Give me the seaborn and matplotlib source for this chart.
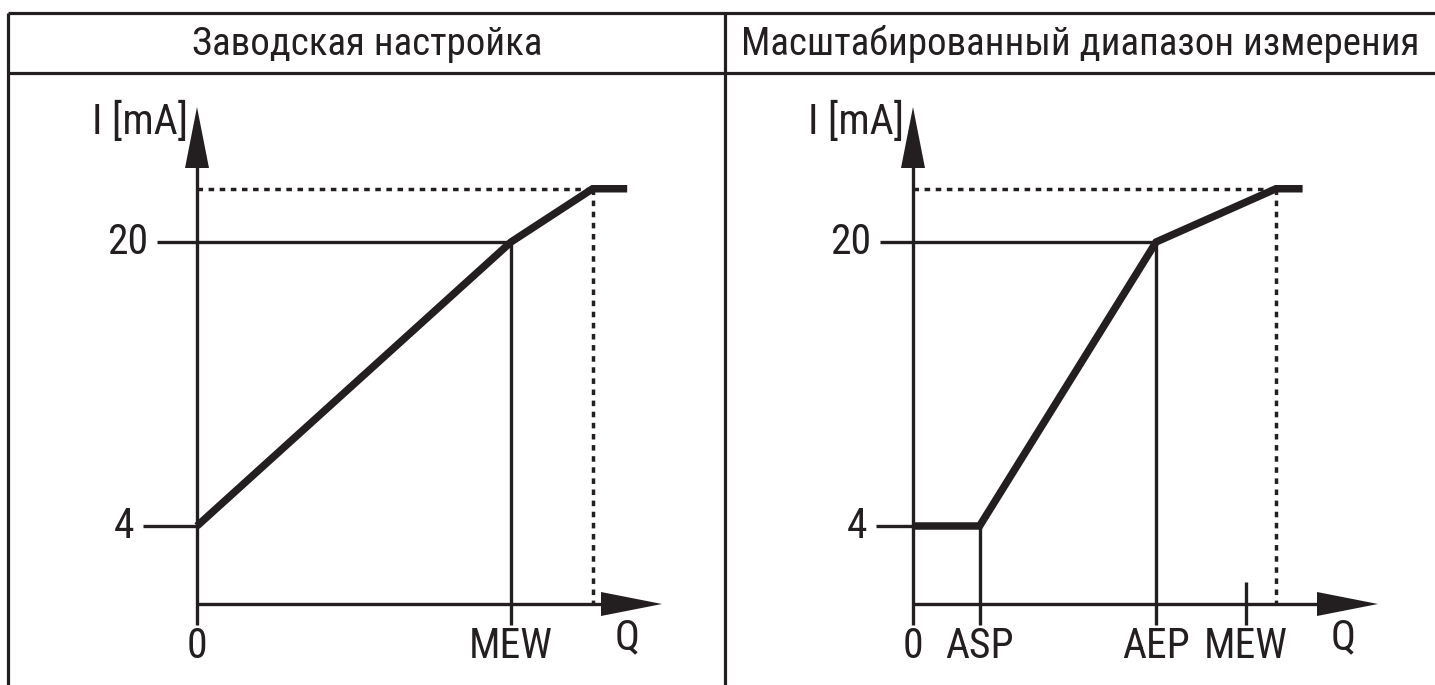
import numpy as np
import matplotlib
matplotlib.use("Agg")
import matplotlib.pyplot as plt
from matplotlib import font_manager
import seaborn as sns

# ---------------- data ----------------
titles = ["Заводская настройка", "Масштабированный диапазон измерения"]

# left panel: factory setting (Q in % of MEW, I in mA)
q_left = [0, 100, 126, 137]
i_left = [4, 20, 23, 23]
left_xticks = [0, 100]
left_xticklabels = ["0", "MEW"]

# right panel: scaled measuring range
q_right = [0, 20, 73, 109, 117]
i_right = [4, 4, 20, 23, 23]
right_xticks = [0, 20, 73, 100]
right_xticklabels = ["0", "ASP", "AEP", "MEW"]

y_ticks = [4, 20]
y_ticklabels = ["4", "20"]
i_sat = 23

# ---------------- style ----------------
sns.set_style("white")

# look for a narrow sans face; fall back to a regular one if none is there
fonts = font_manager.fontManager.ttflist
names = {f.name for f in fonts}
FAMILY, STRETCH, FS, FS_T = 'Liberation Sans', 'normal', 26, 22
for cand in ['Liberation Sans Narrow', 'Arial Narrow', 'DejaVu Sans Condensed',
             'Roboto Condensed', 'Open Sans Condensed']:
    if cand in names:
        FAMILY, FS, FS_T = cand, 30, 28
        break
else:
    cond = [f for f in fonts if str(f.stretch) in ('condensed', 'semi-condensed')
            and f.name in ('DejaVu Sans', 'Open Sans', 'Roboto', 'Noto Sans', 'Liberation Sans')]
    if cond:
        FAMILY, STRETCH, FS, FS_T = cond[0].name, cond[0].stretch, 29.5, 27

plt.rcParams['font.family'] = [FAMILY, 'DejaVu Sans']
plt.rcParams['font.stretch'] = STRETCH
INK = '#231f20'

W, H = 1435, 685
SY = 17.75          # px per mA
Y4 = 526            # pixel row of 4 mA


def py_to_i(py):
    return 4 + (Y4 - py) / SY


fig = plt.figure(figsize=(W / 100, H / 100), dpi=100)

# table frame in pixel coords
frame = fig.add_axes([0, 0, 1, 1])
frame.set_xlim(0, W)
frame.set_ylim(H, 0)
frame.axis('off')
for xs, ys in [([8, W], [13, 13]), ([8, W], [73, 73]), ([8, 8], [13, H]), ([725, 725], [13, H])]:
    frame.plot(xs, ys, color=INK, lw=2.3, solid_capstyle='butt')
frame.text(367, 44, titles[0], fontsize=FS_T, ha='center', va='center', color=INK)
frame.text(1080, 44, titles[1], fontsize=FS_T, ha='center', va='center', color=INK)


def draw_panel(x_lo, x_hi, x0, sx, q, i, xticks, xticklabels, tick_len, tip_px, short_last):
    ax = fig.add_axes([x_lo / W, 0, (x_hi - x_lo) / W, 1])
    ax.set_xlim((x_lo - x0) / sx, (x_hi - x0) / sx)
    ax.set_ylim(py_to_i(H), py_to_i(0))
    ax.axis('off')

    i_axis = py_to_i(604)
    i_bottom = py_to_i(625)
    q_tip = (tip_px - x0) / sx
    head_len_q = 61 / sx
    head_w_q = 12 / sx
    i_tip = py_to_i(107)
    head_len_i = 61 / SY
    head_w_i = 12 / SY
    lw = 2.4

    # axes with arrow heads
    ax.plot([0, 0], [i_bottom, i_tip - head_len_i + 0.1], color=INK, lw=lw, solid_capstyle='butt')
    ax.fill([-head_w_q, head_w_q, 0], [i_tip - head_len_i] * 2 + [i_tip], color=INK, lw=0)
    ax.plot([0, q_tip - head_len_q + 0.5], [i_axis, i_axis], color=INK, lw=lw, solid_capstyle='butt')
    ax.fill([q_tip - head_len_q] * 2 + [q_tip], [i_axis - head_w_i, i_axis + head_w_i, i_axis],
            color=INK, lw=0)

    # y ticks and guide lines
    for yt, lab, tl in zip(y_ticks, y_ticklabels, tick_len):
        q_end = np.interp(yt, i[1:], q[1:]) if yt > i[0] else 0
        ax.plot([-tl / sx, q_end], [yt, yt], color=INK, lw=lw, solid_capstyle='butt')
        ax.text(-(tl + 9) / sx, yt, lab, fontsize=FS, ha='right', va='center', color=INK)

    # x ticks and guide lines
    for k, (xt, lab) in enumerate(zip(xticks, xticklabels)):
        if xt == 0:
            pass
        elif short_last and k == len(xticks) - 1:
            ax.plot([xt, xt], [py_to_i(582), i_bottom], color=INK, lw=lw, solid_capstyle='butt')
        else:
            ax.plot([xt, xt], [np.interp(xt, q, i), i_bottom], color=INK, lw=lw, solid_capstyle='butt')
        ax.text(xt, py_to_i(647), lab, fontsize=FS, ha='center', va='center', color=INK)

    # saturation guides
    q_sat = q[-2]
    ax.plot([0, q_sat], [i_sat, i_sat], color=INK, lw=2.5, ls=(0, (1.6, 1.6)))
    ax.plot([q_sat, q_sat], [i_sat, i_axis], color=INK, lw=2.5, ls=(0, (1.6, 1.6)))

    # characteristic curve
    sns.lineplot(x=q, y=i, ax=ax, color=INK, linewidth=5.4, sort=False, estimator=None,
                 solid_joinstyle='miter', solid_capstyle='butt')

    ax.text(-9 / sx, py_to_i(122), "I [mA]", fontsize=FS, ha='right', va='center', color=INK)
    ax.text(q_tip - 35 / sx, py_to_i(638), "Q", fontsize=FS, ha='center', va='center', color=INK)
    return ax


draw_panel(9, 725, 197, 3.14, q_left, i_left, left_xticks, left_xticklabels, [54, 40], 662, False)
draw_panel(726, 1435, 913, 3.33, q_right, i_right, right_xticks, right_xticklabels, [37, 33], 1378, True)

fig.savefig("out.png", dpi=100)
